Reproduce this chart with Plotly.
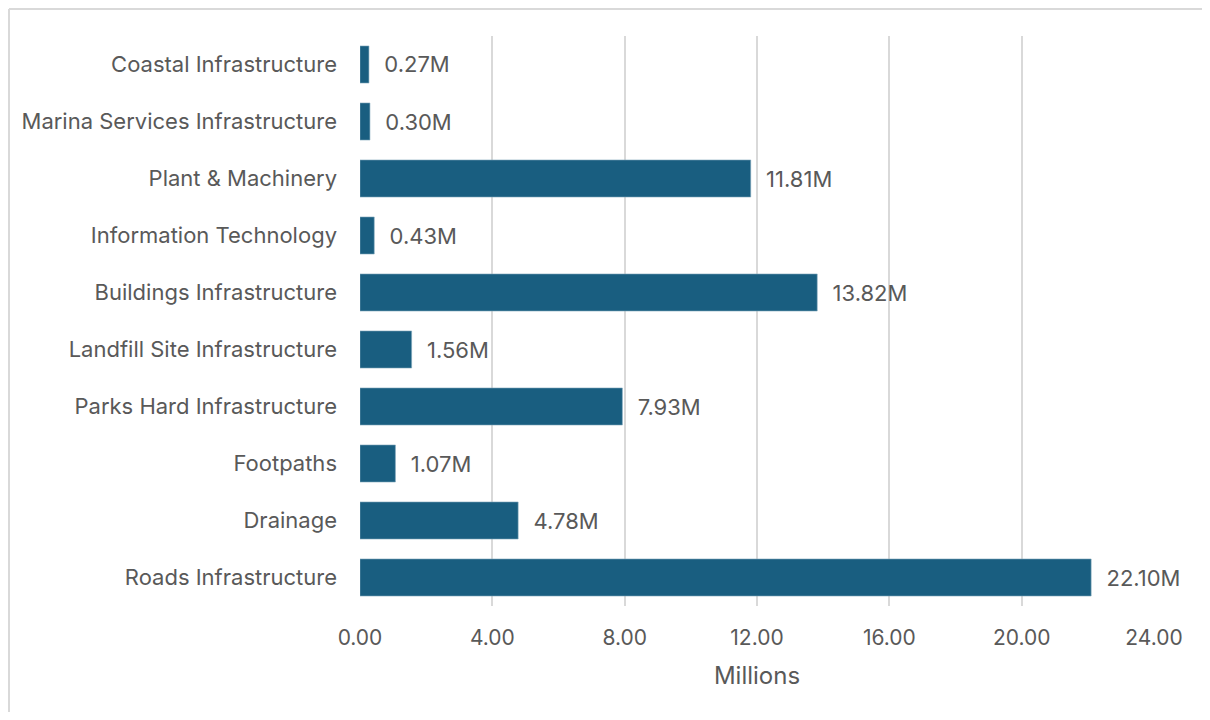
import plotly.graph_objects as go

categories = [
    "Roads Infrastructure",
    "Drainage",
    "Footpaths",
    "Parks Hard Infrastructure",
    "Landfill Site Infrastructure",
    "Buildings Infrastructure",
    "Information Technology",
    "Plant & Machinery",
    "Marina Services Infrastructure",
    "Coastal Infrastructure",
]
values_millions = [22.10, 4.78, 1.07, 7.93, 1.56, 13.82, 0.43, 11.81, 0.30, 0.27]
x_ticks = [0, 4, 8, 12, 16, 20, 24]
x_tick_labels = ["0.00", "4.00", "8.00", "12.00", "16.00", "20.00", "24.00"]

FONT = "Inter"
GRAY = "#595959"

fig = go.Figure(
    go.Bar(
        x=values_millions,
        y=categories,
        orientation="h",
        marker=dict(color="#195E80", line=dict(color="#7FA6BA", width=0.6)),
        width=0.65,
        text=[f"  {v:.2f}M" for v in values_millions],
        textposition="outside",
        textfont=dict(family=FONT, size=22, color=GRAY),
        cliponaxis=False,
        hoverinfo="skip",
    )
)

bx0 = (1 - 352) / 794
by1 = (598 - 1) / 570
border = dict(color="#D9D9D9", width=2)

fig.update_layout(
    width=1194,
    height=704,
    margin=dict(l=352, r=48, t=28, b=106),
    paper_bgcolor="white",
    plot_bgcolor="white",
    showlegend=False,
    font=dict(family=FONT, color=GRAY),
    xaxis=dict(
        range=[0, 24],
        tickvals=x_ticks,
        ticktext=x_tick_labels,
        showgrid=True,
        gridcolor="#D9D9D9",
        gridwidth=2,
        zeroline=False,
        showline=False,
        tickfont=dict(family=FONT, size=21, color=GRAY),
        ticklabelstandoff=17,
        title=dict(text="Millions", font=dict(family=FONT, size=24, color=GRAY), standoff=18),
    ),
    yaxis=dict(
        showgrid=False,
        zeroline=False,
        showline=False,
        tickfont=dict(family=FONT, size=22, color=GRAY),
        ticklabelstandoff=22,
    ),
    shapes=[
        dict(type="line", xref="paper", yref="paper", x0=bx0, x1=bx0, y0=-0.3, y1=by1,
             line=border, layer="below"),
        dict(type="line", xref="paper", yref="paper", x0=bx0, x1=1.1, y0=by1, y1=by1,
             line=border, layer="below"),
    ],
)

fig.write_html("out.html")
